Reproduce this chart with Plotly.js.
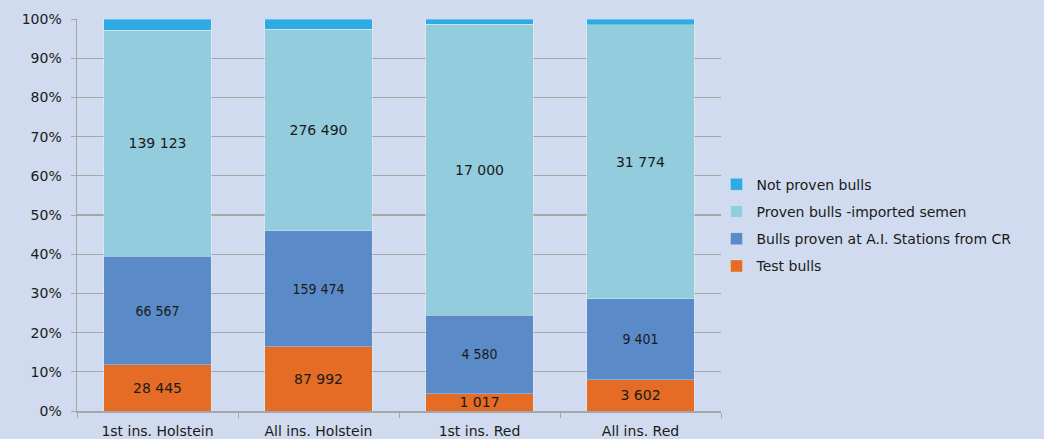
<!DOCTYPE html>
<html><head><meta charset="utf-8">
<script src="https://cdn.plot.ly/plotly-3.0.1.min.js"></script>
<style>html,body{margin:0;padding:0;background:#D0DBEF;}</style>
</head><body>
<div id="chart" style="width:1044px;height:439px;"></div>
<script>
const categories = ["1st ins. Holstein", "All ins. Holstein", "1st ins. Red", "All ins. Red"];
const testBulls = [28445, 87992, 1017, 3602];
const provenCR = [66567, 159474, 4580, 9401];
const provenImported = [139123, 276490, 17000, 31774];
const notProven = [6900, 14000, 320, 640];
const seriesNames = ["Test bulls", "Bulls proven at A.I. Stations from CR", "Proven bulls -imported semen", "Not proven bulls"];

function fmt(v){ return String(v).replace(/\B(?=(\d{3})+(?!\d))/g, " "); }

const mainFont = "DejaVu Sans, Verdana, sans-serif";
const condFont = "DejaVu Sans Condensed, Liberation Sans Narrow, sans-serif";
const segLine = {width: 0.8, color: "rgba(255,255,255,0.35)"};

function mk(vals, name, color, legendgroup, rank, labelFont, showText){
  return {
    type: "bar", x: categories, y: vals, name: name, legendgroup: legendgroup, legendrank: rank,
    marker: {color: color, line: segLine},
    text: showText ? vals.map(fmt) : null,
    textposition: showText ? "inside" : "none",
    insidetextanchor: "middle",
    textangle: 0,
    textfont: labelFont,
    hoverinfo: "name+y",
    constraintext: "none"
  };
}

const data = [
  mk(testBulls, seriesNames[0], "#E46C24", "a", 4, {family: mainFont, size: 14, color: "#1a1a1a"}, true),
  mk(provenCR, seriesNames[1], "#5A8BC8", "b", 3, {family: condFont, size: 14, color: "#1a1a1a"}, true),
  mk(provenImported, seriesNames[2], "#93CDDD", "c", 2, {family: mainFont, size: 14, color: "#1a1a1a"}, true),
  mk(notProven, seriesNames[3], "#2DABE2", "d", 1, {family: mainFont, size: 14, color: "#1a1a1a"}, false)
];

const layout = {
  width: 1044, height: 439,
  margin: {l: 77, r: 323, t: 19, b: 28, pad: 0},
  paper_bgcolor: "#D0DBEF", plot_bgcolor: "#D0DBEF",
  barmode: "stack", barnorm: "percent", bargap: 0.335,
  font: {family: mainFont, size: 14, color: "#1a1a1a"},
  xaxis: {
    showline: true, linecolor: "#A6A6A6", linewidth: 1.5,
    ticks: "outside", tickson: "boundaries", ticklen: 5, tickcolor: "#A6A6A6",
    ticklabelstandoff: 7,
    tickfont: {family: mainFont, size: 14, color: "#1a1a1a"},
    showgrid: false, fixedrange: true
  },
  yaxis: {
    range: [0, 100], dtick: 10, ticksuffix: "%",
    showline: true, linecolor: "#A6A6A6", linewidth: 1.5,
    ticks: "outside", ticklen: 5, tickcolor: "#A6A6A6",
    ticklabelstandoff: 6,
    showgrid: true, gridcolor: "#A6A6A6", gridwidth: 1.3,
    zeroline: false,
    tickfont: {family: mainFont, size: 14, color: "#1a1a1a"}
  },
  legend: {
    x: 0.993, xanchor: "left", y: 0.474, yanchor: "middle",
    traceorder: "grouped", tracegroupgap: 6,
    bgcolor: "rgba(0,0,0,0)",
    font: {family: mainFont, size: 14, color: "#1a1a1a"}
  },
  showlegend: true
};

Plotly.newPlot("chart", data, layout, {displayModeBar: false, staticPlot: true});
</script>
</body></html>
